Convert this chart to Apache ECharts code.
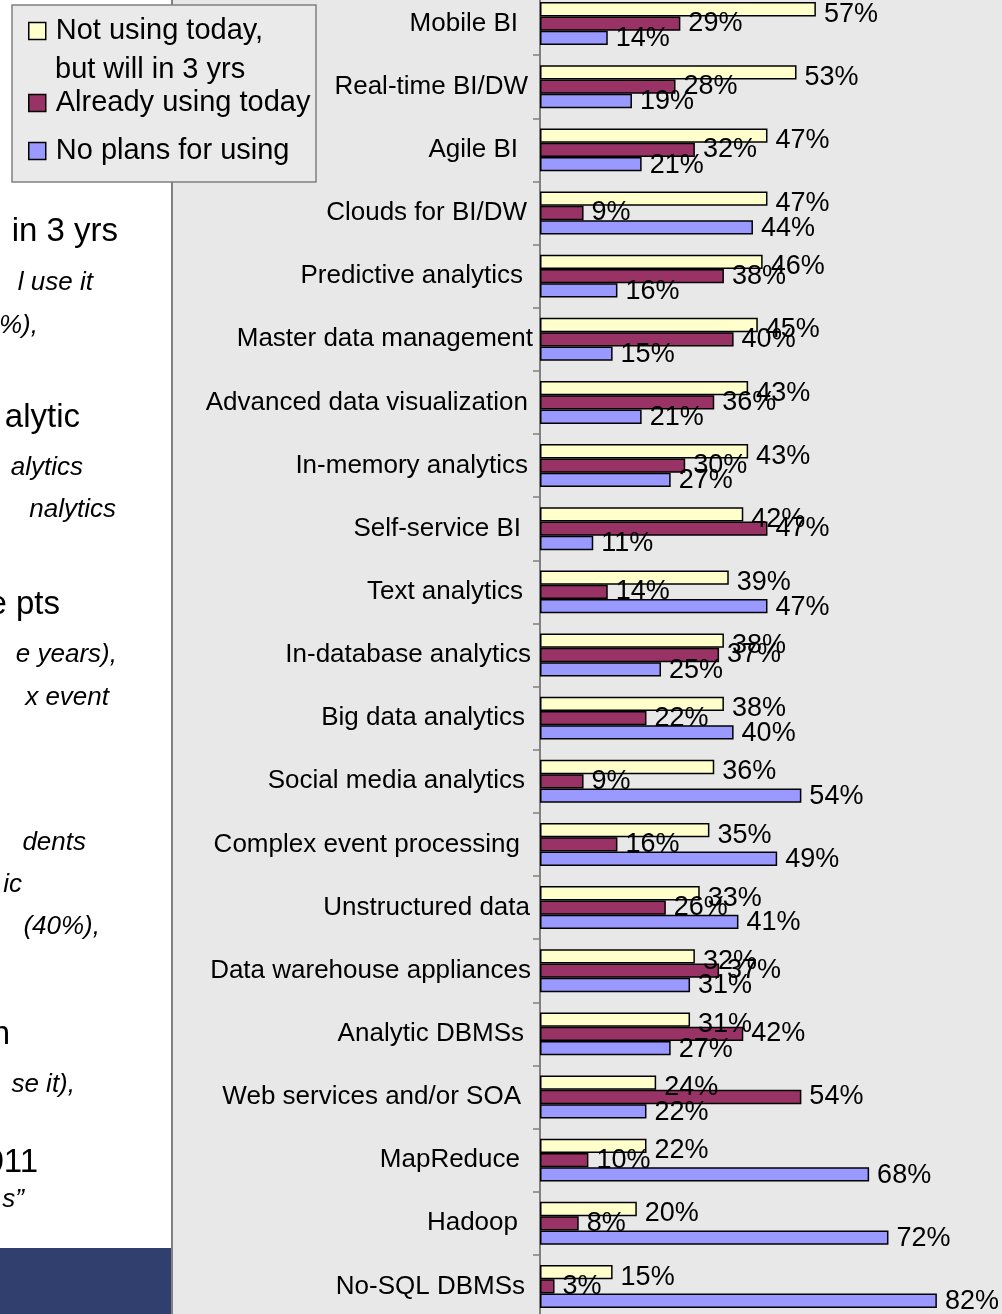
<!DOCTYPE html>
<html>
<head>
<meta charset="utf-8">
<script src="https://cdn.jsdelivr.net/npm/echarts@6/dist/echarts.min.js"></script>
<style>
html,body{margin:0;padding:0;background:#fff;}
#chart{width:1002px;height:1314px;}
</style>
</head>
<body>
<div id="chart"></div>
<script>
var categories = ['Mobile BI','Real-time BI/DW','Agile BI','Clouds for BI/DW','Predictive analytics','Master data management','Advanced data visualization','In-memory analytics','Self-service BI','Text analytics','In-database analytics','Big data analytics','Social media analytics','Complex event processing','Unstructured data','Data warehouse appliances','Analytic DBMSs','Web services and/or SOA','MapReduce','Hadoop','No-SQL DBMSs'];
var seriesNames = ['Not using today,\nbut will in 3 yrs','Already using today','No plans for using'];
var willUse = [57,53,47,47,46,45,43,43,42,39,38,38,36,35,33,32,31,24,22,20,15];
var usingToday = [29,28,32,9,38,40,36,30,47,14,37,22,9,16,26,37,42,54,10,8,3];
var noPlans = [14,19,21,44,16,15,21,27,11,47,25,40,54,49,41,31,27,22,68,72,82];
var sideText = [
  ['in 3 yrs',118,232,false],['l use it',93,283,true],['%),',38,326,true],
  ['alytic',80,418,false],['alytics',83,468,true],['nalytics',116,510,true],
  ['e pts',60,605,false],['e years),',117,655,true],['x event',109,698,true],
  ['dents',86,843,true],['ic',22,885,true],['(40%),',100,927,true],
  ['n',10,1035,false],['se it),',75,1085,true],['011',38,1163,false],['s\u201D',24,1200,true]
];
// extra right padding of each category label (style only)
var labelPad = [15,5,15,6,10,0,5,5,12,10,2,8,8,13,3,2,9,12,13,15,8];

var font = "'Liberation Sans',Arial,sans-serif";
var colors = ['#FFFFCC','#993366','#9999FF'];
var values = [willUse, usingToday, noPlans];
var labelOffsets = [[0,5],[0,0],[0,1]];

var chart = echarts.init(document.getElementById('chart'));

var graphics = [
  {type:'rect', z:-10, shape:{x:172,y:0,width:830,height:1314}, style:{fill:'#E8E8E8'}},
  {type:'line', z:-9, shape:{x1:172,y1:0,x2:172,y2:1314}, style:{stroke:'#808080',lineWidth:2}},
  {type:'rect', z:-9, shape:{x:0,y:1248,width:171,height:66}, style:{fill:'#313F6E'}},
  {type:'rect', z:1, shape:{x:12,y:5,width:304,height:177}, style:{fill:'#EAEAEA',stroke:'#808080',lineWidth:1.5}},
  {type:'text', z:10, x:55, y:70, style:{text:'but will in 3 yrs', font:'29px '+font, fill:'#000', verticalAlign:'middle'}}
];
sideText.forEach(function(t){
  graphics.push({type:'text', z:-8, x:t[1], y:t[2], style:{text:t[0], font:(t[3]?'italic 26px ':'33px ')+font, fill:'#000', align:'right', verticalAlign:'middle'}});
});

function legendFor(i, top){
  return {
    show:true, data:[{name:seriesNames[i], icon:'rect'}], left:28, top:top, padding:0, orient:'vertical',
    itemWidth:17, itemHeight:17, selectedMode:false, z:10,
    itemStyle:{borderColor:'#000',borderWidth:1.5},
    formatter:function(n){return n.split('\n')[0];},
    textStyle:{fontSize:29, fontFamily:font, color:'#000', padding:[0,0,0,5]}
  };
}

var rich = {};
labelPad.forEach(function(p, i){
  rich['r'+i] = {fontSize:26, fontFamily:font, color:'#000', padding:[0,p,0,0]};
});

var series = seriesNames.map(function(name, i){
  return {
    name:name, type:'bar', data:values[i], barWidth:14.3, barGap:'0%',
    itemStyle:{color:colors[i], borderColor:'#000', borderWidth:1.5},
    label:{show:true, position:'right', distance:8, offset:labelOffsets[i], formatter:'{c}%',
      fontSize:27, fontFamily:font, color:'#000'},
    emphasis:{disabled:true}, animation:false
  };
});

chart.setOption({
  animation:false,
  backgroundColor:'#fff',
  graphic:graphics,
  legend:[legendFor(0,16.5), legendFor(1,88.5), legendFor(2,136.5)],
  grid:{left:540, top:-8, width:484, height:1326, containLabel:false, outerBoundsMode:'none'},
  xAxis:{type:'value', min:0, max:100, show:false},
  yAxis:{type:'category', data:categories, inverse:true,
    axisLine:{lineStyle:{color:'#808080', width:2}},
    axisTick:{show:true, length:7, lineStyle:{color:'#808080', width:1.5}},
    axisLabel:{fontSize:26, fontFamily:font, color:'#000', margin:7,
      formatter:function(v, idx){ return '{r'+idx+'|'+v+'}'; }, rich:rich}
  },
  series:series
});
</script>
</body>
</html>
